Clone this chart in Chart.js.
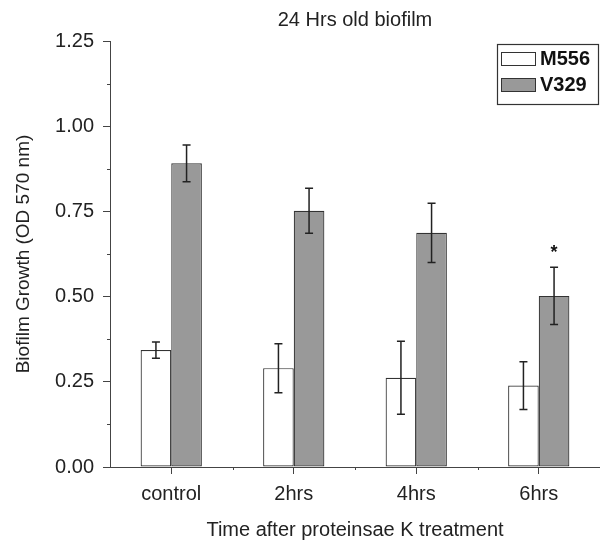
<!DOCTYPE html>
<html>
<head>
<meta charset="utf-8">
<script src="https://cdn.jsdelivr.net/npm/chart.js@4/dist/chart.umd.min.js"></script>
<style>
  html, body { margin: 0; padding: 0; background: #fff; }
  #wrap { width: 600px; height: 545px; }
</style>
</head>
<body>
<div id="wrap"><canvas id="bioChart"></canvas></div>
<script>
// data
const groups = ['control', '2hrs', '4hrs', '6hrs'];
const m556 = [0.343, 0.290, 0.262, 0.239];
const m556Err = [0.024, 0.072, 0.107, 0.070];
const v329 = [0.891, 0.752, 0.687, 0.502];
const v329Err = [0.054, 0.066, 0.087, 0.084];
const yTicks = [0, 0.25, 0.5, 0.75, 1.0, 1.25];
const starred = [3]; // significance mark on V329

const axisColor = '#444';
const fontFamily = 'Liberation Sans, Arial, sans-serif';

// title, error bars, minor ticks, asterisk, legend
const extras = {
    id: 'extras',
    afterDatasetsDraw(chart) {
        const ctx = chart.ctx;
        const y = chart.scales.y;
        const x = chart.scales.x;
        const errs = [m556Err, v329Err];
        ctx.save();
        ctx.strokeStyle = '#222';
        ctx.lineWidth = 1.5;
        chart.data.datasets.forEach((ds, di) => {
            chart.getDatasetMeta(di).data.forEach((bar, i) => {
                const top = y.getPixelForValue(ds.data[i] + errs[di][i]);
                const bot = y.getPixelForValue(ds.data[i] - errs[di][i]);
                ctx.beginPath();
                ctx.moveTo(bar.x, top); ctx.lineTo(bar.x, bot);
                ctx.moveTo(bar.x - 4, top); ctx.lineTo(bar.x + 4, top);
                ctx.moveTo(bar.x - 4, bot); ctx.lineTo(bar.x + 4, bot);
                ctx.stroke();
                if (di === 1 && starred.includes(i)) {
                    ctx.fillStyle = '#111';
                    ctx.font = 'bold 18px ' + fontFamily;
                    ctx.textAlign = 'center';
                    ctx.textBaseline = 'middle';
                    ctx.fillText('*', bar.x, top - 14);
                }
            });
        });
        // minor ticks
        ctx.strokeStyle = axisColor;
        ctx.lineWidth = 1;
        ctx.beginPath();
        for (let v = 0.125; v < 1.25; v += 0.25) {
            const py = Math.round(y.getPixelForValue(v)) + 0.5;
            ctx.moveTo(x.left - 3, py); ctx.lineTo(x.left, py);
        }
        for (let i = 1; i < groups.length; i++) {
            const px = Math.round(x.getPixelForValue(i - 0.5)) + 0.5;
            ctx.moveTo(px, y.bottom); ctx.lineTo(px, y.bottom + 3);
        }
        ctx.stroke();
        ctx.restore();
    },
    afterDraw(chart) {
        const ctx = chart.ctx;
        const area = chart.chartArea;
        ctx.save();
        // title centred over the plot area
        ctx.fillStyle = '#222';
        ctx.font = '20px ' + fontFamily;
        ctx.textAlign = 'center';
        ctx.textBaseline = 'middle';
        ctx.fillText('24 Hrs old biofilm', (area.left + area.right) / 2, 20);

        // legend box top right
        const bx = 497, by = 44, bw = 101, bh = 60;
        ctx.strokeStyle = '#333';
        ctx.lineWidth = 1.2;
        ctx.strokeRect(bx + 0.5, by + 0.5, bw, bh);
        chart.data.datasets.forEach((ds, i) => {
            const sy = by + 8 + i * 26;
            ctx.fillStyle = ds.backgroundColor;
            ctx.fillRect(bx + 4, sy, 35, 14);
            ctx.strokeStyle = '#333';
            ctx.lineWidth = 1;
            ctx.strokeRect(bx + 4.5, sy + 0.5, 34, 13);
            ctx.fillStyle = '#111';
            ctx.font = 'bold 20px ' + fontFamily;
            ctx.textAlign = 'left';
            ctx.textBaseline = 'middle';
            ctx.fillText(ds.label, bx + 43, sy + 7.5);
        });
        ctx.restore();
    }
};

new Chart(document.getElementById('bioChart'), {
    type: 'bar',
    data: {
        labels: groups,
        datasets: [{
            label: 'M556',
            data: m556,
            backgroundColor: '#ffffff',
            borderColor: '#333',
            borderWidth: 1.2,
            borderSkipped: false
        }, {
            label: 'V329',
            data: v329,
            backgroundColor: '#999999',
            borderColor: '#333',
            borderWidth: 1.2,
            borderSkipped: false
        }]
    },
    options: {
        responsive: true,
        maintainAspectRatio: false,
        animation: false,
        layout: { padding: { left: 0, right: 0, top: 41, bottom: 0 } },
        datasets: { bar: { categoryPercentage: 0.5, barPercentage: 1.0 } },
        plugins: {
            legend: { display: false },
            tooltip: { enabled: false },
            title: { display: false }
        },
        scales: {
            x: {
                afterFit(scale) { scale.height = 78; },
                border: { color: axisColor, width: 1 },
                grid: { display: true, drawOnChartArea: false, offset: false, tickLength: 7, color: axisColor },
                ticks: { color: '#222', padding: 8, font: { family: fontFamily, size: 20 } },
                title: {
                    display: true,
                    text: 'Time after proteinsae K treatment',
                    color: '#222',
                    font: { family: fontFamily, size: 20 },
                    padding: { top: 0, bottom: 3 }
                }
            },
            y: {
                min: 0,
                max: 1.25,
                afterFit(scale) { scale.width = 110; },
                afterBuildTicks(scale) { scale.ticks = yTicks.map(v => ({ value: v })); },
                border: { color: axisColor, width: 1 },
                grid: { display: true, drawOnChartArea: false, tickLength: 7, color: axisColor },
                ticks: {
                    color: '#222',
                    padding: 9,
                    font: { family: fontFamily, size: 20 },
                    callback: v => Number(v).toFixed(2)
                },
                title: {
                    display: true,
                    text: 'Biofilm Growth (OD 570 nm)',
                    color: '#222',
                    font: { family: fontFamily, size: 19 },
                    padding: { top: 12, bottom: 0 }
                }
            }
        }
    },
    plugins: [extras]
});
</script>
</body>
</html>
